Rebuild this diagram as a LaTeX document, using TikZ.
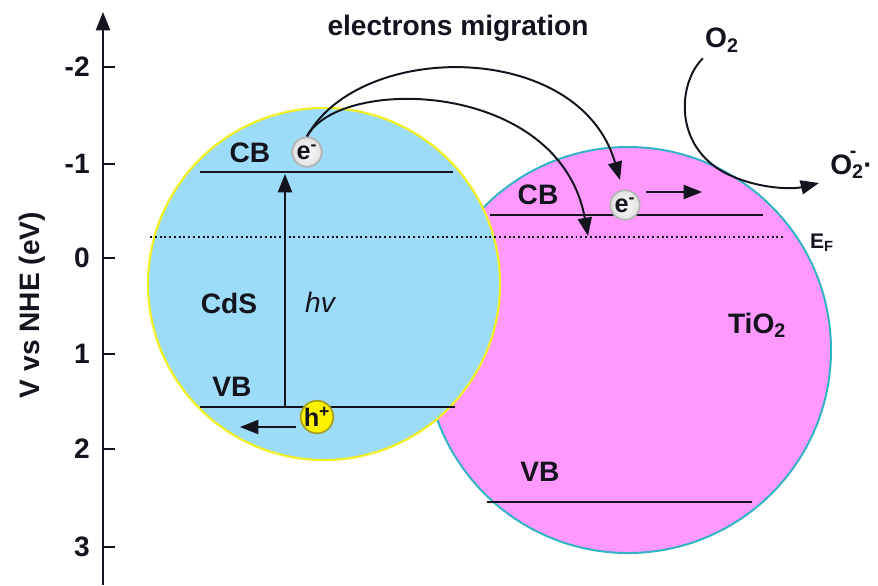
\documentclass[tikz,border=0pt]{standalone}
\usepackage{fontspec}
\setmainfont{Liberation Sans}
\usetikzlibrary{arrows.meta}

\definecolor{cdsblue}{HTML}{9DDCF8}
\definecolor{tiopink}{HTML}{FF99FF}
\definecolor{cdsrim}{HTML}{F0F028}
\definecolor{tiorim}{HTML}{30B4C4}
\definecolor{ink}{HTML}{14141E}

\tikzset{
  lbl/.style={font=\fontsize{20}{24}\selectfont\bfseries, text=ink, inner sep=0pt},
  small/.style={font=\fontsize{15}{18}\selectfont\bfseries, text=ink, inner sep=0pt},
  band/.style={draw=ink, line width=1.6pt},
  tip/.style={-{Triangle[length=13pt,width=10pt]}, draw=ink, line width=1.4pt},
  carrier/.style={circle, inner sep=0pt, minimum size=21pt, line width=1.2pt,
    font=\fontsize{18}{20}\selectfont\bfseries, text=ink},
  electron/.style={carrier, draw=gray!60, inner color=white, outer color=gray!25},
  hole/.style={carrier, draw=olive!80, fill=yellow},
}

\begin{document}
\begin{tikzpicture}[x=0.025cm, y=-0.025cm]
  \useasboundingbox (0,0) rectangle (878,585);

  % particles
  \fill[tiopink] (628,350) circle[radius=203];
  \draw[tiorim, line width=1.4pt] (628,350) circle[radius=203];
  \fill[cdsblue] (324,284) circle[radius=176];
  \draw[cdsrim, line width=1.6pt] (324,284) circle[radius=176];

  % energy axis
  \coordinate (axbot) at (103,585);
  \coordinate (axtop) at (103,12);
  \draw[tip, line width=1.6pt] (axbot) -- (axtop);
  \foreach \v/\ypos in {-2/67,-1/164,0/258,1/354,2/449,3/547} {
    \draw[ink, line width=1.6pt] (103,\ypos) -- (115,\ypos);
    \node[lbl, anchor=east] at (90,\ypos) {\v};
  }
  \node[lbl, rotate=90] (axlabel) at (32,305) {V vs NHE (eV)};

  % Fermi level
  \draw[ink, line width=1.4pt, dotted] (150,237) -- (785,237);
  \node[small] (ef) at (822,243) {E\textsubscript{F}};

  % CdS bands
  \coordinate (cdscb1) at (200,172);
  \coordinate (cdscb2) at (453,172);
  \coordinate (cdsvb1) at (200,407);
  \coordinate (cdsvb2) at (455,407);
  \draw[band] (cdscb1) -- (cdscb2);
  \draw[band] (cdsvb1) -- (cdsvb2);
  \node[lbl] (cdscb) at (250,153) {CB};
  \node[lbl] (cdsvb) at (232,387) {VB};
  \node[lbl] (cds) at (229,303) {CdS};
  \node[font=\fontsize{20}{24}\selectfont\itshape, text=ink] (hv) at (320,302) {hv};
  \coordinate (exbot) at (285,407);
  \coordinate (extop) at (285,174);
  \draw[tip] (exbot) -- (extop);
  \node[electron] (e1) at (307,152) {e\textsuperscript{-}};
  \node[hole] (h1) at (317,417) {h\textsuperscript{+}};
  \coordinate (hleft) at (240,427);
  \draw[tip] (h1.west |- hleft) ++(-4,0) -- (hleft);

  % TiO2 bands
  \coordinate (tiocb1) at (490,215);
  \coordinate (tiocb2) at (763,215);
  \coordinate (tiovb1) at (487,502);
  \coordinate (tiovb2) at (752,502);
  \draw[band] (tiocb1) -- (tiocb2);
  \draw[band] (tiovb1) -- (tiovb2);
  \node[lbl] (tiocb) at (538,195) {CB};
  \node[lbl] (tiovb) at (540,472) {VB};
  \node[lbl] (tio) at (757,325) {TiO\textsubscript{2}};
  \node[electron] (e2) at (625,205) {e\textsuperscript{-}};
  \coordinate (eright) at (702,192);
  \draw[tip] (646,192) -- (eright);

  % electron migration
  \node[lbl] (migr) at (458,28) {electrons migration};
  \coordinate (mig1) at (620,180);
  \coordinate (mig2) at (588,236);
  \draw[tip] (e1.north) .. controls (360,40) and (580,40) .. (mig1);
  \draw[tip] (e1.north) .. controls (340,75) and (560,80) .. (mig2);

  % oxygen reduction
  \node[lbl] (o2) at (722,40) {O\textsubscript{2}};
  \node[lbl, anchor=west] (o2rad) at (830,165) {O\textsubscript{2}\hspace{-0.5em}\raisebox{0.6em}{\fontsize{14}{16}\selectfont -}\hspace{0.25em}·};
  \coordinate (o2end) at (819,183);
  \draw[tip] (o2.south west) ++(-2,6) .. controls (680,80) and (672,140) .. (720,170)
    .. controls (750,188) and (790,190) .. (o2end);
\end{tikzpicture}
\end{document}
